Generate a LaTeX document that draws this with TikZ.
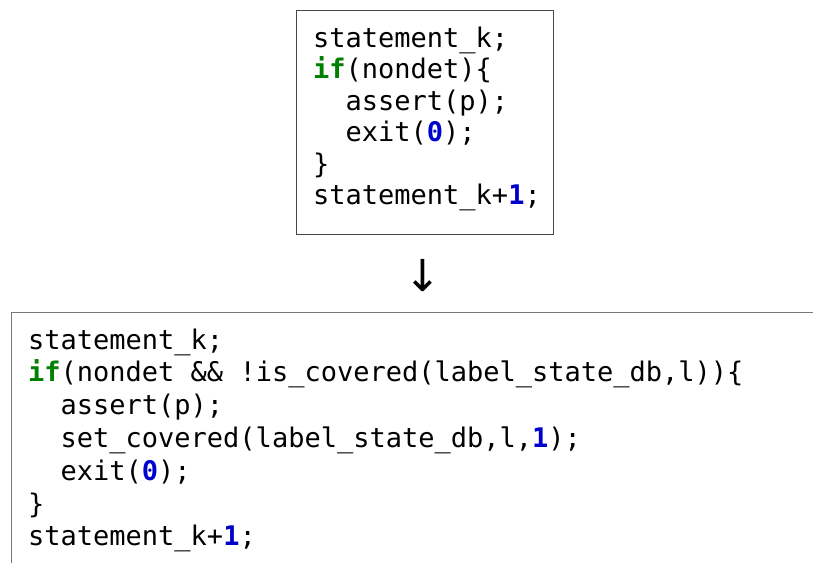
\documentclass[tikz,border=0pt]{standalone}
\usepackage{fontspec}
\setmonofont{DejaVu Sans Mono}
\newfontfamily\arrowfont{DejaVu Sans}
\definecolor{kwgreen}{RGB}{0,128,0}
\definecolor{numblue}{RGB}{0,0,205}
\definecolor{boxgray}{RGB}{70,70,70}
\definecolor{framegray}{RGB}{120,120,120}
\begin{document}
\begin{tikzpicture}[x=1pt,y=-1pt,
  code/.style={anchor=base west, inner sep=0pt, font=\fontsize{27}{32}\selectfont\ttfamily},
]
\newcommand{\kwif}{\textcolor{kwgreen}{\bfseries if}}
\newcommand{\numb}[1]{\textcolor{numblue}{\bfseries #1}}
\useasboundingbox (0,0) rectangle (813,563);
\fill[white] (0,0) rectangle (813,563);
% top box
\node[draw=boxgray, line width=1pt, minimum width=257pt, minimum height=224pt, inner sep=0pt, anchor=north west] (top) at (296,10) {};
\node[code] (t1) at (313,47) {statement\_k;};
\node[code] (t2) at (313,78.5) {\kwif(nondet)\{};
\node[code] (t3) at (345.5,110) {assert(p);};
\node[code] (t4) at (345.5,141.5) {exit(\numb{0});};
\node[code] (t5) at (313,173) {\}};
\node[code] (t6) at (313,204.5) {statement\_k+\numb{1};};
% arrow
\node[inner sep=0pt, font=\arrowfont\fontsize{44}{44}\selectfont] (arr) at (423,276) {↓};
% bottom box (clipped)
\coordinate (bl) at (11,563);
\coordinate (tl) at (11,312);
\coordinate (tr) at (813,312);
\draw[draw=framegray, line width=1pt] (bl) -- (tl) -- (tr);
\node[code] (b1) at (28,349) {statement\_k;};
\node[code] (b2) at (28,381.8) {\kwif(nondet \&\& !is\_covered(label\_state\_db,l))\{};
\node[code] (b3) at (60.5,414.6) {assert(p);};
\node[code] (b4) at (60.5,447.4) {set\_covered(label\_state\_db,l,\numb{1});};
\node[code] (b5) at (60.5,480.2) {exit(\numb{0});};
\node[code] (b6) at (28,513) {\}};
\node[code] (b7) at (28,545.8) {statement\_k+\numb{1};};
\end{tikzpicture}
\end{document}
